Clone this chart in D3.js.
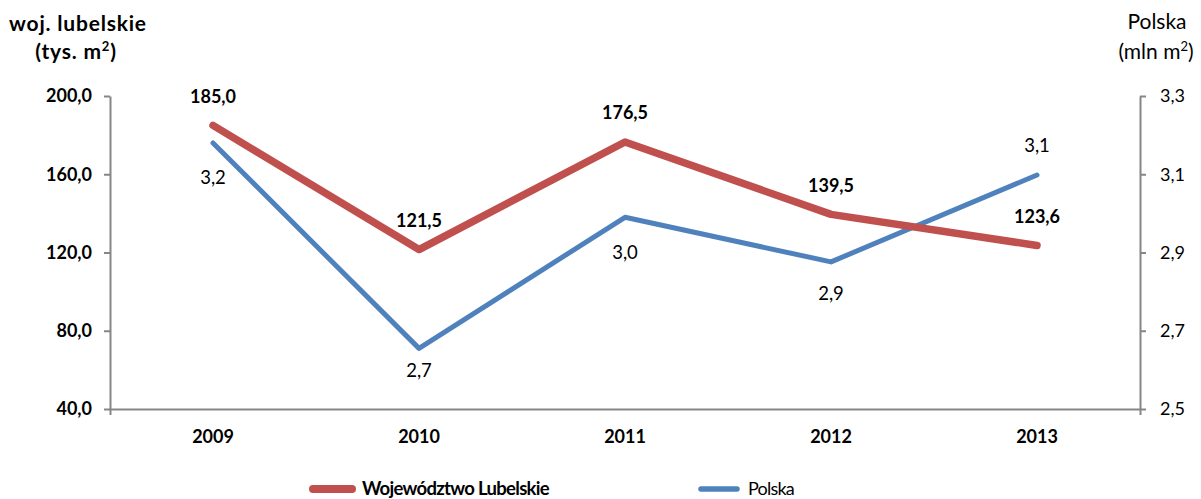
<!DOCTYPE html>
<html>
<head>
<meta charset="utf-8">
<script src="https://cdn.jsdelivr.net/npm/d3@7"></script>
<style>
  body { margin: 0; background: #fff; }
  svg { display: block; font-family: Lato, "Open Sans", sans-serif; }
  .axis path, .axis line { stroke: #868686; stroke-width: 2; }
</style>
</head>
<body>
<div id="chart"></div>
<script>
const years = ['2009', '2010', '2011', '2012', '2013'];
const lubelskie = [185.0, 121.5, 176.5, 139.5, 123.6];
const polska = [3.18, 2.655, 2.99, 2.876, 3.098];
const lubelskieLabels = ['185,0', '121,5', '176,5', '139,5', '123,6'];
const polskaLabels = ['3,2', '2,7', '3,0', '2,9', '3,1'];
const leftTicks = [40, 80, 120, 160, 200];
const rightTicks = [2.5, 2.7, 2.9, 3.1, 3.3];
// vertical offset of the Polska value labels (below = positive)
const polskaLabelDy = [35, 22, 35, 32, -30];

const width = 1201, height = 499;
const plot = { left: 110, right: 1140, top: 96, bottom: 409 };
const fs = 18;

const svg = d3.select('#chart').append('svg')
    .attr('width', width)
    .attr('height', height);

const x = d3.scaleBand()
    .domain(years)
    .range([plot.left, plot.right]);

const yLeft = d3.scaleLinear()
    .domain([40, 200])
    .range([plot.bottom, plot.top]);

const yRight = d3.scaleLinear()
    .domain([2.5, 3.3])
    .range([plot.bottom, plot.top]);

const fmt = d => d.toFixed(1).replace('.', ',');

// left axis
const gl = svg.append('g')
    .attr('class', 'axis')
    .attr('transform', 'translate(' + plot.left + ',0)')
    .call(d3.axisLeft(yLeft).tickValues(leftTicks).tickFormat(fmt).tickSize(6).tickSizeOuter(0).tickPadding(12));
gl.selectAll('text')
    .attr('font-size', fs)
    .attr('font-weight', 'bold')
    .attr('fill', '#000')
    .attr('font-family', 'Lato, sans-serif');

// right axis
const gr = svg.append('g')
    .attr('class', 'axis')
    .attr('transform', 'translate(' + plot.right + ',0)')
    .call(d3.axisRight(yRight).tickValues(rightTicks).tickFormat(fmt).tickSize(6).tickSizeOuter(0).tickPadding(14));
gr.selectAll('text')
    .attr('font-size', fs)
    .attr('fill', '#000')
    .attr('font-family', 'Lato, sans-serif');

// bottom axis
const gb = svg.append('g')
    .attr('class', 'axis')
    .attr('transform', 'translate(0,' + plot.bottom + ')')
    .call(d3.axisBottom(x).tickSize(0).tickSizeOuter(6).tickPadding(21));
gb.selectAll('text')
    .attr('font-size', fs)
    .attr('font-weight', 'bold')
    .attr('fill', '#000')
    .attr('font-family', 'Lato, sans-serif');

// axis titles
const titles = svg.append('g').attr('font-size', 21).attr('fill', '#000');
titles.append('text').attr('x', 78).attr('y', 31).attr('text-anchor', 'middle')
    .attr('font-weight', 'bold').attr('letter-spacing', 0.8).text('woj. lubelskie');
const tl = titles.append('text').attr('x', 76).attr('y', 59).attr('text-anchor', 'middle')
    .attr('font-weight', 'bold').attr('letter-spacing', 0.8);
tl.append('tspan').text('(tys. m');
tl.append('tspan').attr('dy', -8).attr('font-size', 13).text('2');
tl.append('tspan').attr('dy', 8).text(')');

titles.append('text').attr('x', 1157).attr('y', 29).attr('text-anchor', 'middle').text('Polska');
const tr = titles.append('text').attr('x', 1156).attr('y', 59).attr('text-anchor', 'middle');
tr.append('tspan').text('(mln m');
tr.append('tspan').attr('dy', -8).attr('font-size', 13).text('2');
tr.append('tspan').attr('dy', 8).text(')');

const cx = d => x(d) + x.bandwidth() / 2;

// lines
const redLine = d3.line().x((d, i) => cx(years[i])).y(d => yLeft(d));
const blueLine = d3.line().x((d, i) => cx(years[i])).y(d => yRight(d));

svg.append('path')
    .datum(polska)
    .attr('d', blueLine)
    .attr('fill', 'none')
    .attr('stroke', '#4F81BD')
    .attr('stroke-width', 5)
    .attr('stroke-linecap', 'round')
    .attr('stroke-linejoin', 'round');

svg.append('path')
    .datum(lubelskie)
    .attr('d', redLine)
    .attr('fill', 'none')
    .attr('stroke', '#C0504D')
    .attr('stroke-width', 7.5)
    .attr('stroke-linecap', 'round')
    .attr('stroke-linejoin', 'round');

// value labels
svg.append('g').selectAll('text')
    .data(lubelskie)
    .enter().append('text')
    .attr('x', (d, i) => cx(years[i]))
    .attr('y', d => yLeft(d) - 29)
    .attr('dy', '0.35em')
    .attr('text-anchor', 'middle')
    .attr('font-size', fs)
    .attr('font-weight', 'bold')
    .text((d, i) => lubelskieLabels[i]);

svg.append('g').selectAll('text')
    .data(polska)
    .enter().append('text')
    .attr('x', (d, i) => cx(years[i]))
    .attr('y', (d, i) => yRight(d) + polskaLabelDy[i])
    .attr('dy', '0.35em')
    .attr('text-anchor', 'middle')
    .attr('font-size', 18.5)
    .text((d, i) => polskaLabels[i]);

// legend
const legend = svg.append('g');
legend.append('line').attr('x1', 313).attr('x2', 352).attr('y1', 489).attr('y2', 489)
    .attr('stroke', '#C0504D').attr('stroke-width', 8).attr('stroke-linecap', 'round');
legend.append('text').attr('x', 362).attr('y', 489).attr('dy', '0.35em')
    .attr('font-size', 18.5).attr('font-weight', 'bold').attr('letter-spacing', -0.7)
    .text('Województwo Lubelskie');
legend.append('line').attr('x1', 701).attr('x2', 737).attr('y1', 489).attr('y2', 489)
    .attr('stroke', '#4F81BD').attr('stroke-width', 5.5).attr('stroke-linecap', 'round');
legend.append('text').attr('x', 748).attr('y', 489).attr('dy', '0.35em')
    .attr('font-size', 18).attr('letter-spacing', -0.8).text('Polska');
</script>
</body>
</html>
